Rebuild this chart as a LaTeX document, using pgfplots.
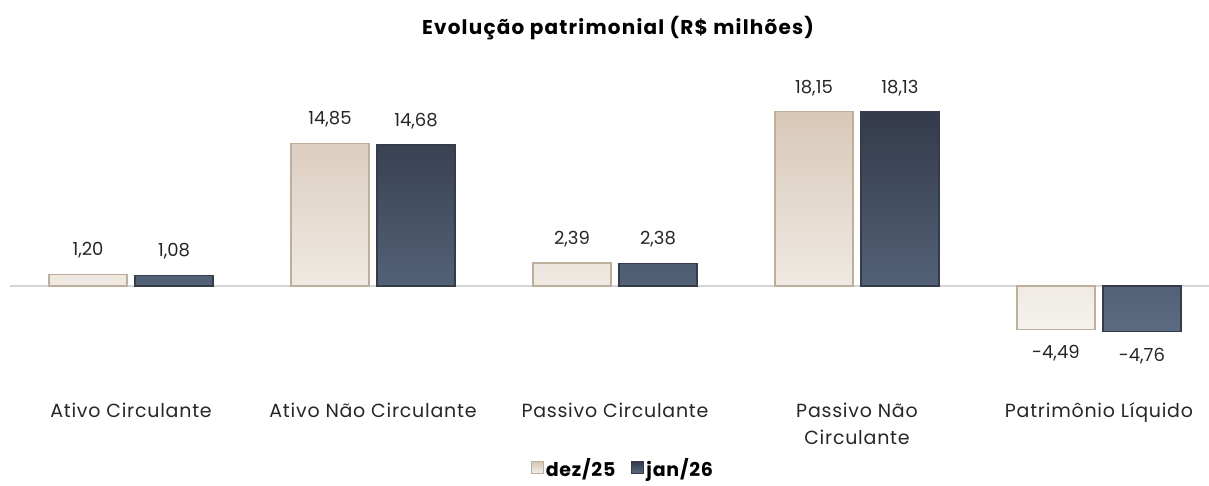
\documentclass[border=0pt]{standalone}
\usepackage{pgfplots}
\pgfplotsset{compat=1.18}
\usepackage{fontspec}
\setmainfont{Poppins}
\definecolor{dezTop}{HTML}{D8C8B8}
\definecolor{dezBot}{HTML}{F5F2EE}
\definecolor{dezLine}{HTML}{BEAE9C}
\definecolor{janTop}{HTML}{343A4B}
\definecolor{janBot}{HTML}{5B6C82}
\definecolor{janLine}{HTML}{363B4A}
\definecolor{txt}{HTML}{262626}
\begin{document}
\begin{tikzpicture}
\useasboundingbox (0,0) rectangle (1209pt,486pt);
\node[font=\bfseries\fontsize{20}{24}\selectfont\addfontfeatures{LetterSpace=6}, text=black] at (618pt,458pt) {Evolução patrimonial (R\$ milhões)};
\begin{axis}[
  at={(10pt,94.4pt)}, anchor=south west,
  scale only axis, width=1210pt, height=316.8pt,
  xmin=-0.5, xmax=4.5, ymin=-11, ymax=22,
  ybar=8pt, bar width=78pt,
  xtick={0,...,4},
  xticklabels={Ativo Circulante, Ativo Não Circulante, Passivo Circulante, {Passivo Não\\Circulante}, Patrimônio Líquido},
  xticklabel style={align=center, font=\fontsize{19}{27}\selectfont\addfontfeatures{LetterSpace=4}, text=txt, yshift=-8pt},
  ytick=\empty,
  extra y ticks={0}, extra y tick labels={},
  extra y tick style={grid=major, major grid style={color=black!17, line width=1.5pt}},
  axis line style={draw=none},
  major tick length=0pt,
  nodes near coords,
  every node near coord/.append style={font=\fontsize{18}{20}\selectfont, text=txt, inner sep=15.5pt},
  /pgf/number format/.cd, assume math mode=true, use comma, fixed, fixed zerofill, precision=2, 1000 sep={},
  /pgfplots/.cd,
  legend columns=2,
  legend style={at={(axis description cs:0.5066,-0.241)}, anchor=center, draw=none, fill=none,
    font=\bfseries\fontsize{19}{22}\selectfont\addfontfeatures{LetterSpace=4}, text=black,
    nodes={inner xsep=2pt},
    /tikz/every even column/.append style={column sep=14pt}},
]
\addplot[shade, top color=dezTop, bottom color=dezBot, draw=dezLine, line width=1.2pt,
  legend image code/.code={\draw[fill=dezTop!50!dezBot, draw=dezLine, line width=1pt] (0pt,-6pt) rectangle (12pt,6pt);}]
  coordinates {(0,1.20) (1,14.85) (2,2.39) (3,18.15) (4,-4.49)};
\addplot[shade, top color=janTop, bottom color=janBot, draw=janLine, line width=1.2pt,
  legend image code/.code={\draw[fill=janTop!50!janBot, draw=janLine, line width=1pt] (0pt,-6pt) rectangle (12pt,6pt);}]
  coordinates {(0,1.08) (1,14.68) (2,2.38) (3,18.13) (4,-4.76)};
\legend{dez/25, jan/26}
\end{axis}
\end{tikzpicture}
\end{document}
